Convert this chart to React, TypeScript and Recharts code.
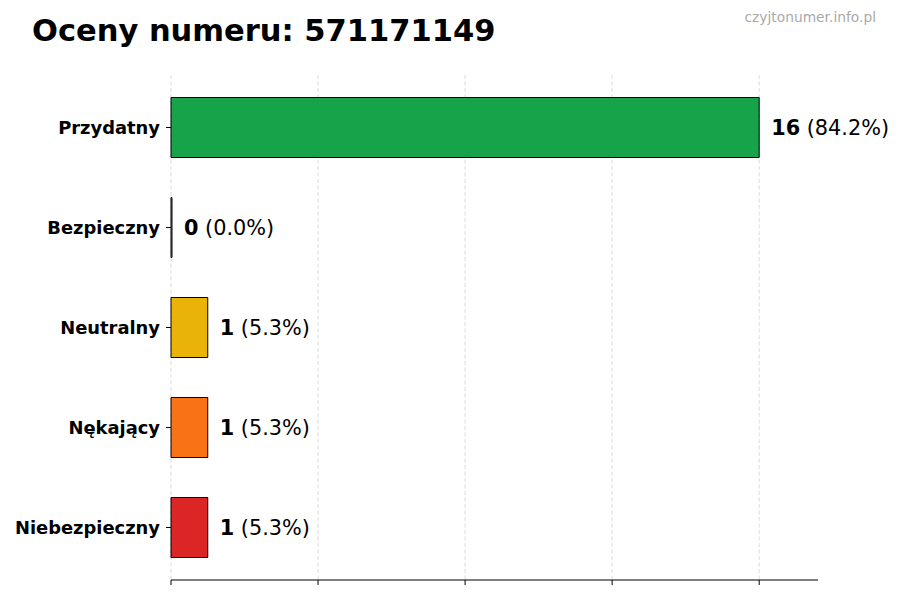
import { BarChart, Bar, XAxis, YAxis, CartesianGrid, Cell, LabelList } from "recharts";

const categories = ["Przydatny", "Bezpieczny", "Neutralny", "Nękający", "Niebezpieczny"];
const counts = [16, 0, 1, 1, 1];
const colors = ["#16a34a", "#9ca3af", "#eab308", "#f97316", "#dc2626"];
const xTicks = [0, 4, 8, 12, 16];
const xDomain = [0, 17.6];

const total = counts.reduce((a, b) => a + b, 0);
const data = categories.map((name, i) => ({ name, value: counts[i] }));

const FONT = "'DejaVu Sans', sans-serif";

// grid only at the tick values, not at the axis end
function gridX({ xAxis, offset }: any) {
  const sc = xAxis && xAxis.scale;
  if (typeof sc === "function") return xTicks.map((t) => sc(t));
  if (sc && typeof sc.map === "function") return xTicks.map((t) => sc.map(t));
  return xTicks.map(
    (t) => offset.left + ((t - xDomain[0]) / (xDomain[1] - xDomain[0])) * offset.width
  );
}

function ValueLabel(props: any) {
  const { x, y, width, height, value } = props;
  const pct = ((Number(value) / total) * 100).toFixed(1);
  return (
    <text
      x={x + width + 12}
      y={y + height / 2}
      dominantBaseline="central"
      fontFamily={FONT}
      fontSize={20.8}
      fill="#000"
    >
      <tspan fontWeight="bold">{value}</tspan>
      <tspan> ({pct}%)</tspan>
    </text>
  );
}

export default function App() {
  return (
    <div style={{ position: "absolute", left: 0, top: 0, width: 900, height: 600, background: "#fff" }}>
      <BarChart
        width={900}
        height={600}
        data={data}
        layout="vertical"
        margin={{ top: 75, right: 82, bottom: 0, left: 0 }}
      >
        <CartesianGrid
          horizontal={false}
          stroke="#d4d4d4"
          strokeDasharray="4 2.5"
          verticalCoordinatesGenerator={gridX}
        />
        <XAxis
          type="number"
          domain={xDomain}
          ticks={xTicks}
          tickFormatter={() => ""}
          tickSize={5}
          height={20}
          stroke="#000"
          axisLine={{ stroke: "#000", strokeWidth: 1.2 }}
          tickLine={{ stroke: "#000" }}
        />
        <YAxis
          type="category"
          dataKey="name"
          width={171}
          axisLine={false}
          padding={{ top: 2.5, bottom: 2.5 }}
          tickSize={5}
          tickMargin={6}
          tickLine={{ stroke: "#000" }}
          tick={{ fill: "#000", fontSize: 17.9, fontWeight: "bold", fontFamily: FONT }}
        />
        <Bar
          dataKey="value"
          barSize={60}
          minPointSize={1}
          stroke="#000"
          strokeWidth={1}
          isAnimationActive={false}
        >
          {data.map((d, i) => (
            <Cell key={d.name} fill={colors[i]} />
          ))}
          <LabelList dataKey="value" content={ValueLabel} />
        </Bar>
        <CartesianGrid
          horizontal={false}
          stroke="#ffffff"
          strokeOpacity={0.35}
          strokeDasharray="4 2.5"
          verticalCoordinatesGenerator={gridX}
        />
      </BarChart>
      <svg
        width={900}
        height={600}
        style={{ position: "absolute", left: 0, top: 0, pointerEvents: "none" }}
      >
        <text x={32} y={41} fontFamily={FONT} fontSize={30.5} fontWeight="bold" fill="#000">
          Oceny numeru: 571171149
        </text>
        <text x={876} y={22} textAnchor="end" fontFamily={FONT} fontSize={13.8} fill="#aaaaaa">
          czyjtonumer.info.pl
        </text>
      </svg>
    </div>
  );
}
